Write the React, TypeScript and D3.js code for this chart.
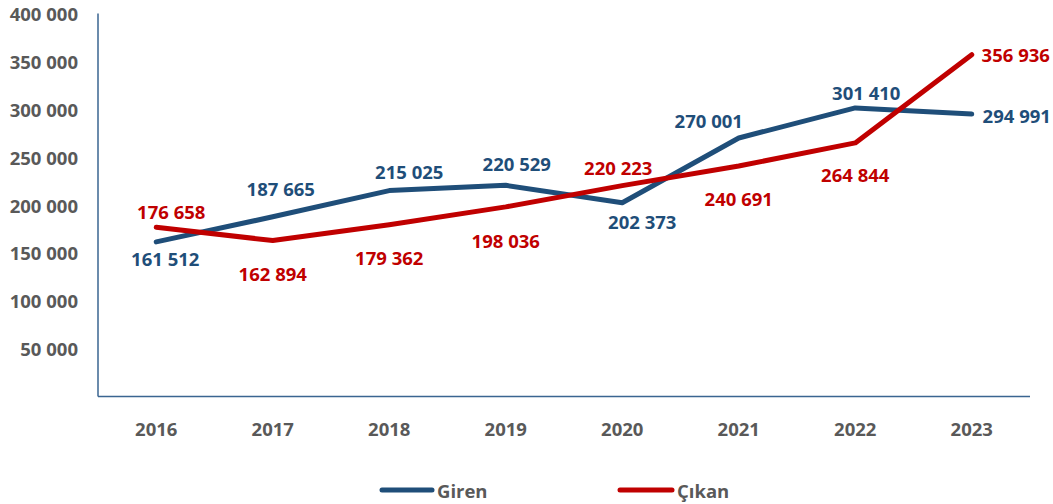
import React from "react";
import * as d3 from "d3";

const years = ["2016", "2017", "2018", "2019", "2020", "2021", "2022", "2023"];
const giren = [161512, 187665, 215025, 220529, 202373, 270001, 301410, 294991];
const cikan = [176658, 162894, 179362, 198036, 220223, 240691, 264844, 356936];
const yTicks = [50000, 100000, 150000, 200000, 250000, 300000, 350000, 400000];

// label offsets (dx, dy) relative to each point
const girenLabelOffsets = [[9, 17], [8, -28], [20, -19], [11, -22], [20, 19], [-30, -17], [11, -15], [45, 1]];
const cikanLabelOffsets = [[15, -16], [0, 33], [0, 33], [0, 34], [-4, -18], [0, 32], [0, 32], [44, 0]];

const W = 1053, H = 504;
const BLUE = "#1f4e79";
const RED = "#c00000";
const GRAY = "#595959";
const AXIS = "#3a6591";
const FONT = "'Open Sans', sans-serif";

const fmt = (v: number) => d3.format(",")(v).replace(/,/g, " ");

export default function App() {
  const x = d3.scaleBand<string>().domain(years).range([98, 1030]);
  const y = d3.scaleLinear().domain([0, 400000]).range([396.5, 13.5]);
  const cx = (d: string) => (x(d) as number) + x.bandwidth() / 2;
  const line = d3.line<number>().x((_, i) => cx(years[i])).y((v) => y(v));

  const series = [
    { name: "Giren", values: giren, color: BLUE, offs: girenLabelOffsets },
    { name: "Çıkan", values: cikan, color: RED, offs: cikanLabelOffsets },
  ];

  return (
    <svg width={W} height={H} style={{ position: "absolute", left: 0, top: 0 }} fontFamily={FONT}>
      <rect width={W} height={H} fill="#ffffff" />
      {yTicks.map((t) => (
        <text key={t} x={78} y={y(t)} textAnchor="end" dominantBaseline="central" fontSize={18.5} fontWeight={700} fill={GRAY}>
          {fmt(t)}
        </text>
      ))}
      <line x1={98} x2={98} y1={13.5} y2={396.5} stroke={AXIS} strokeWidth={1.5} />
      <line x1={98} x2={1030} y1={396.5} y2={396.5} stroke={AXIS} strokeWidth={1.5} />
      {years.map((yr) => (
        <text key={yr} x={cx(yr)} y={428} textAnchor="middle" dominantBaseline="central" fontSize={18.5} fontWeight={700} fill={GRAY}>
          {yr}
        </text>
      ))}
      {series.map((s) => (
        <path key={s.name} d={line(s.values) as string} fill="none" stroke={s.color} strokeWidth={5} strokeLinejoin="round" strokeLinecap="round" />
      ))}
      {series.map((s) =>
        s.values.map((v, i) => (
          <text key={s.name + i} x={cx(years[i]) + s.offs[i][0]} y={y(v) + s.offs[i][1]} textAnchor="middle" dominantBaseline="central" fontSize={18.5} fontWeight={700} fill={s.color}>
            {fmt(v)}
          </text>
        ))
      )}
      <g>
        <line x1={382} x2={432} y1={490} y2={490} stroke={BLUE} strokeWidth={5} strokeLinecap="round" />
        <text x={437} y={490} dominantBaseline="central" fontSize={18.5} fontWeight={700} fill={GRAY}>Giren</text>
        <line x1={620} x2={672} y1={490} y2={490} stroke={RED} strokeWidth={5} strokeLinecap="round" />
        <text x={677} y={490} dominantBaseline="central" fontSize={18.5} fontWeight={700} fill={GRAY}>Çıkan</text>
      </g>
    </svg>
  );
}
